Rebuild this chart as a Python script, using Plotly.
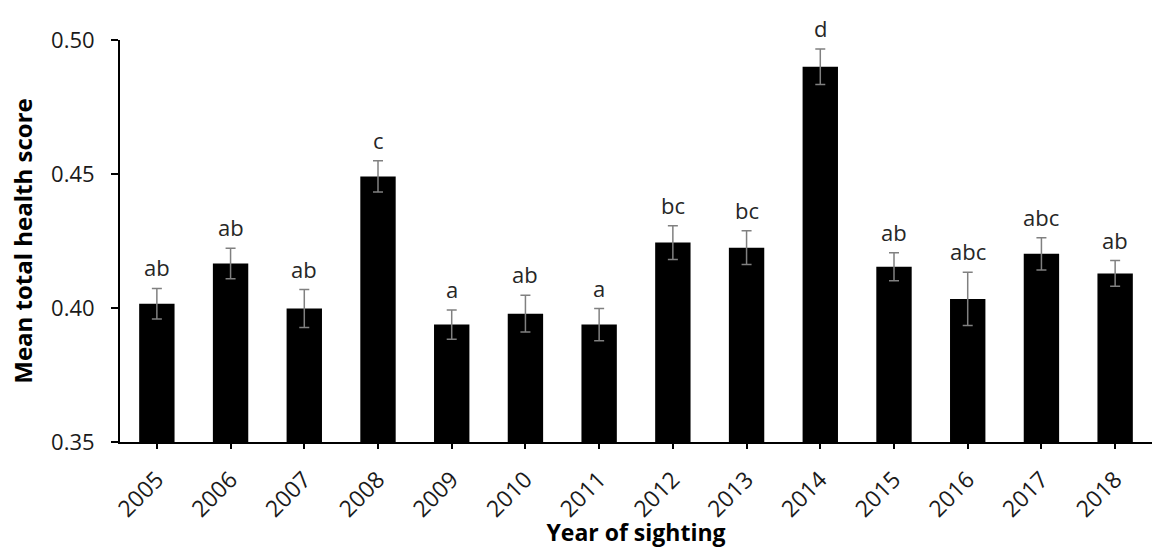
import plotly.graph_objects as go

# Mean total health score by year of sighting, with standard errors and
# significance-group letters
years = ["2005", "2006", "2007", "2008", "2009", "2010", "2011",
         "2012", "2013", "2014", "2015", "2016", "2017", "2018"]
mean_score = [0.4016, 0.4166, 0.3998, 0.4491, 0.3938, 0.3979, 0.3938,
              0.4244, 0.4225, 0.4900, 0.4154, 0.4034, 0.4202, 0.4129]
std_err = [0.0057, 0.0057, 0.0071, 0.0058, 0.0055, 0.0069, 0.0060,
           0.0063, 0.0063, 0.0066, 0.0052, 0.0099, 0.0060, 0.0048]
groups = ["ab", "ab", "ab", "c", "a", "ab", "a",
          "bc", "bc", "d", "ab", "abc", "abc", "ab"]

FONT = "Open Sans, Noto Sans, DejaVu Sans, sans-serif"

fig = go.Figure()
fig.add_trace(go.Bar(
    x=years,
    y=mean_score,
    marker=dict(color="black", line=dict(width=0)),
    width=0.48,
    error_y=dict(type="data", array=std_err, visible=True,
                 color="#808080", thickness=1.5, width=5),
    hoverinfo="x+y",
))

# group letters sit just above each error bar (x given as category index)
for i, (m, e, g) in enumerate(zip(mean_score, std_err, groups)):
    fig.add_annotation(
        x=i, y=m + e, text=g, showarrow=False,
        xref="x", yref="y",
        yanchor="bottom", yshift=4,
        font=dict(family=FONT, size=22, color="#262626"),
    )

fig.update_layout(
    width=1152, height=548,
    margin=dict(l=120, r=0, t=40, b=106),
    paper_bgcolor="white", plot_bgcolor="white",
    showlegend=False,
)

fig.update_xaxes(
    type="category",
    range=[-0.5, len(years) - 0.5],
    showline=True, linecolor="black", linewidth=2,
    ticks="outside", ticklen=5, tickwidth=2, tickcolor="black",
    tickangle=-45,
    ticklabelstandoff=8,
    tickfont=dict(family=FONT, size=23, color="#1a1a1a"),
    title=dict(text="<b>Year of sighting</b>", standoff=4,
               font=dict(family=FONT, size=23, color="black")),
    showgrid=False, zeroline=False,
)
fig.update_yaxes(
    range=[0.35, 0.50],
    tickvals=[0.35, 0.40, 0.45, 0.50],
    ticktext=["0.35", "0.40", "0.45", "0.50"],
    showline=True, linecolor="black", linewidth=2,
    ticks="outside", ticklen=7, tickwidth=2, tickcolor="black",
    ticklabelstandoff=12,
    tickfont=dict(family=FONT, size=22, color="#1a1a1a"),
    title=dict(text="<b>Mean total health score</b>", standoff=12,
               font=dict(family=FONT, size=24, color="black")),
    showgrid=False, zeroline=False,
)

fig.write_html("out.html")
